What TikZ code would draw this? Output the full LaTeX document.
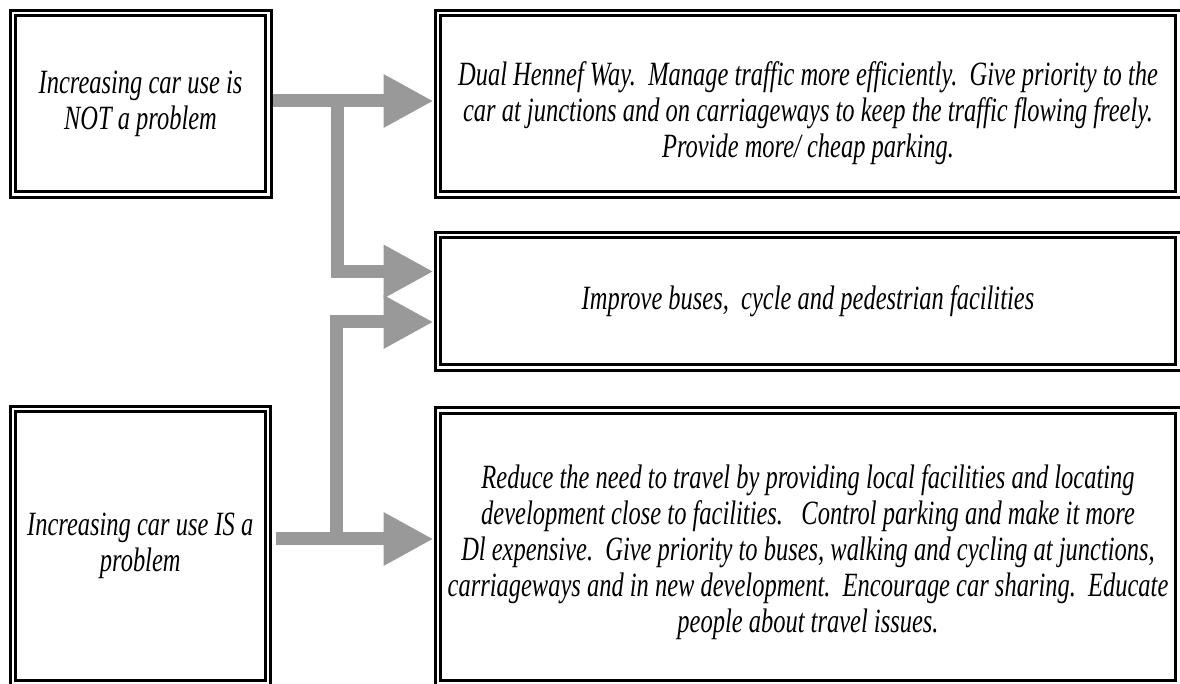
\documentclass[tikz,border=0pt]{standalone}
\usepackage{fontspec}
\newfontfamily\boxfont{Liberation Serif}[FakeStretch=0.72]
\usepackage{xcolor}
\usetikzlibrary{arrows.meta}
\definecolor{arrowgray}{RGB}{153,153,153}

\tikzset{
  option/.style={draw, double, line width=1.5pt, double distance=1.25pt,
    outer sep=2.125pt, inner sep=0pt, align=center,
    font=\boxfont\itshape\fontsize{17}{18}\selectfont},
  flow/.style={draw=arrowgray, line width=6.5pt,
    -{Triangle[length=25pt,width=25pt]}},
}

\begin{document}
\begin{tikzpicture}[x=0.5pt,y=-0.5pt]
\useasboundingbox[fill=white] (0,0) rectangle (1180,684);
% the two views of car use
\node[option, minimum width=127.75pt, minimum height=90.75pt] (notprob) at (140.5,104)
  {Increasing car use is\\NOT a problem};
\node[option, minimum width=127.5pt, minimum height=137pt] (isprob) at (140.25,546.25)
  {Increasing car use IS a\\problem};
% what follows from them
\node[option, minimum width=370.25pt, minimum height=90.75pt] (roads) at (808,104)
  {\rule{0pt}{21pt}Dual Hennef Way.\ \ Manage traffic more efficiently.\ \ Give priority to the\\
   car at junctions and on carriageways to keep the traffic flowing freely.\\
   Provide more/\ cheap parking.};
\node[option, minimum width=370.25pt, minimum height=66.25pt] (buses) at (808,301.5)
  {Improve buses,\ \ cycle and pedestrian facilities};
\node[option, minimum width=370.25pt, minimum height=136.25pt] (reduce) at (808,547)
  {\rule{0pt}{17pt}Reduce the need to travel by providing local facilities and locating\\
   development close to facilities.\ \ \ Control parking and make it more\\
   Dl expensive.\ \ Give priority to buses, walking and cycling at junctions,\\
   carriageways and in new development.\ \ Encourage car sharing.\ \ Educate\\
   people about travel issues.};
\coordinate (upfork) at (337.5,101);
\coordinate (downfork) at (336.5,539);
\draw[flow] (notprob.east |- upfork) -- (roads.west |- upfork);
\draw[flow] (upfork) |- ([yshift=15pt]buses.west);
\draw[flow] ([xshift=2pt]isprob.east |- downfork) -- (reduce.west |- downfork);
\draw[flow] (downfork) |- ([yshift=-10.25pt]buses.west);
\end{tikzpicture}
\end{document}
